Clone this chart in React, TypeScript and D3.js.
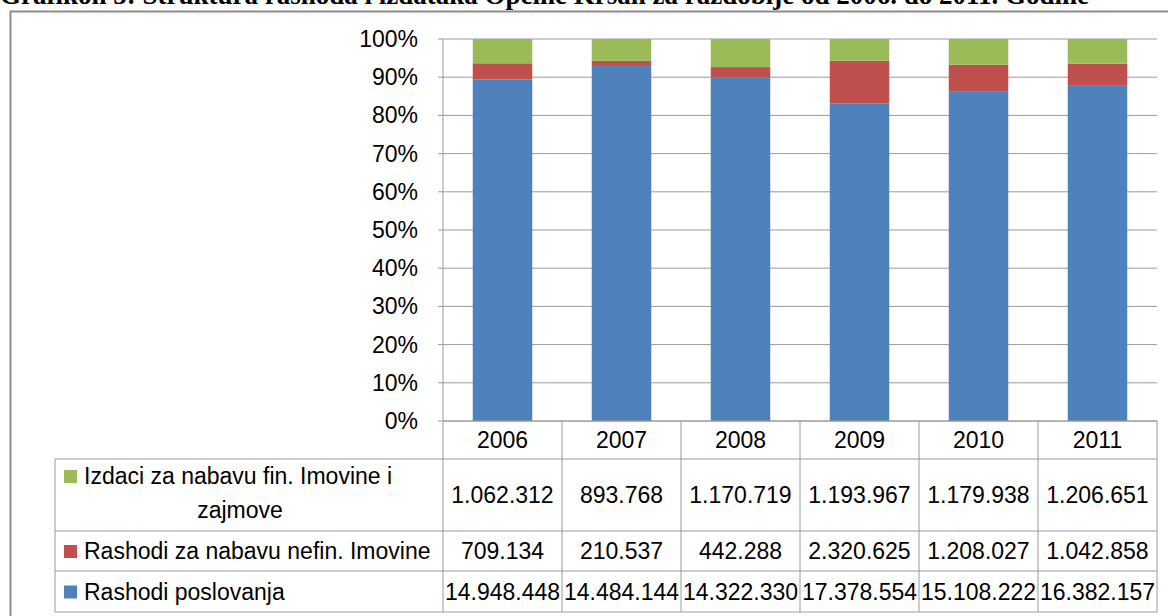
import * as d3 from "d3"

const years = ["2006", "2007", "2008", "2009", "2010", "2011"]
const rashodiPoslovanja = [14948448, 14484144, 14322330, 17378554, 15108222, 16382157]
const rashodiNefin = [709134, 210537, 442288, 2320625, 1208027, 1042858]
const izdaciFin = [1062312, 893768, 1170719, 1193967, 1179938, 1206651]
const seriesKeys = ["poslovanja", "nefin", "fin"]
const seriesLabels = ["Rashodi poslovanja", "Rashodi za nabavu nefin. Imovine", "Izdaci za nabavu fin. Imovine i zajmove"]
const seriesColors = ["#4f81bd", "#c0504d", "#9bbb59"]
const title = "Grafikon 5: Struktura rashoda i izdataka Općine Kršan za razdoblje od 2006. do 2011. Godine"

const W = 1168
const H = 616
const plot = { left: 443, right: 1157, top: 39, bottom: 421 }
const table = { left: 55, header: 459, rows: [459, 531, 571, 612] }
const font = "'Liberation Sans', Arial, sans-serif"
const fs = 23

const hr = d3.formatLocale({ decimal: ",", thousands: ".", grouping: [3], currency: ["", ""] })
const fmtNum = hr.format(",")
const fmtPct = d3.format(".0%")

export default function App() {
  const rows = years.map((y, i) => ({
    year: y,
    poslovanja: rashodiPoslovanja[i],
    nefin: rashodiNefin[i],
    fin: izdaciFin[i],
  }))

  const stacked = d3
    .stack<any>()
    .keys(seriesKeys)
    .offset(d3.stackOffsetExpand)(rows)

  const x = d3.scaleBand().domain(years).range([plot.left, plot.right]).paddingInner(0).paddingOuter(0)
  const barW = x.bandwidth() / 2
  const y = d3.scaleLinear().domain([0, 1]).range([plot.bottom, plot.top])
  const yTicks = y.ticks(10)

  // table rows top to bottom: fin, nefin, poslovanja
  const tableSeries = [
    { label: seriesLabels[2], color: seriesColors[2], values: izdaciFin },
    { label: seriesLabels[1], color: seriesColors[1], values: rashodiNefin },
    { label: seriesLabels[0], color: seriesColors[0], values: rashodiPoslovanja },
  ]
  const grid = "#9a9a9a"

  return (
    <svg
      width={W}
      height={H}
      style={{ position: "absolute", left: 0, top: 0, background: "#fff" }}
      fontFamily={font}
    >
      <rect x={0} y={0} width={W} height={H} fill="#fff" />
      <text
        x={0}
        y={4}
        fontFamily="'Liberation Serif', 'Times New Roman', serif"
        fontWeight="bold"
        fontSize={27}
        fill="#000"
      >
        {title}
      </text>
      {/* chart area border */}
      <path d={`M10.5,${H} V11.5 H${W}`} fill="none" stroke="#8c8c8c" strokeWidth={2} />

      {/* gridlines */}
      {yTicks.map((t) => (
        <line key={t} x1={plot.left - 5} x2={plot.right} y1={y(t)} y2={y(t)} stroke={grid} strokeWidth={1} />
      ))}
      {yTicks.map((t) => (
        <text key={"l" + t} x={418} y={y(t)} textAnchor="end" dominantBaseline="central" fontSize={fs} fill="#000">
          {fmtPct(t)}
        </text>
      ))}
      <line x1={plot.left} x2={plot.left} y1={plot.top} y2={table.rows[3]} stroke={grid} />

      {/* bars */}
      {stacked.map((s, si) => (
        <g key={s.key} fill={seriesColors[si]}>
          {s.map((d, i) => (
            <rect
              key={i}
              x={(x(years[i]) ?? 0) + (x.bandwidth() - barW) / 2}
              y={y(d[1])}
              width={barW}
              height={y(d[0]) - y(d[1])}
            />
          ))}
        </g>
      ))}

      {/* data table */}
      <g stroke={grid} strokeWidth={1} fill="none">
        <line x1={plot.left} x2={plot.right} y1={plot.bottom} y2={plot.bottom} />
        {table.rows.map((r) => (
          <line key={r} x1={table.left} x2={plot.right} y1={r} y2={r} />
        ))}
        <line x1={table.left} x2={table.left} y1={table.rows[0]} y2={table.rows[3]} />
        {years.map((yr) => (
          <line key={yr} x1={(x(yr) ?? 0) + x.bandwidth()} x2={(x(yr) ?? 0) + x.bandwidth()} y1={plot.bottom} y2={table.rows[3]} />
        ))}
      </g>
      {years.map((yr) => (
        <text
          key={yr}
          x={(x(yr) ?? 0) + x.bandwidth() / 2}
          y={(plot.bottom + table.header) / 2}
          textAnchor="middle"
          dominantBaseline="central"
          fontSize={fs}
          fill="#000"
        >
          {yr}
        </text>
      ))}
      {tableSeries.map((s, ri) => {
        const top = table.rows[ri]
        const bot = table.rows[ri + 1]
        const mid = (top + bot) / 2
        return (
          <g key={s.label}>
            {s.values.map((v, i) => (
              <text
                key={i}
                x={(x(years[i]) ?? 0) + x.bandwidth() / 2}
                y={mid}
                textAnchor="middle"
                dominantBaseline="central"
                fontSize={fs}
                fill="#000"
              >
                {fmtNum(v)}
              </text>
            ))}
            {ri === 0 ? (
              <>
                <rect x={64} y={top + 11} width={13} height={13} fill={s.color} />
                <text x={84} y={top + 17} dominantBaseline="central" fontSize={fs} fill="#000">
                  Izdaci za nabavu fin. Imovine i
                </text>
                <text x={240} y={top + 51} textAnchor="middle" dominantBaseline="central" fontSize={fs} fill="#000">
                  zajmove
                </text>
              </>
            ) : (
              <>
                <rect x={64} y={mid - 6} width={13} height={13} fill={s.color} />
                <text x={84} y={mid} dominantBaseline="central" fontSize={fs} fill="#000">
                  {s.label}
                </text>
              </>
            )}
          </g>
        )
      })}
    </svg>
  )
}
